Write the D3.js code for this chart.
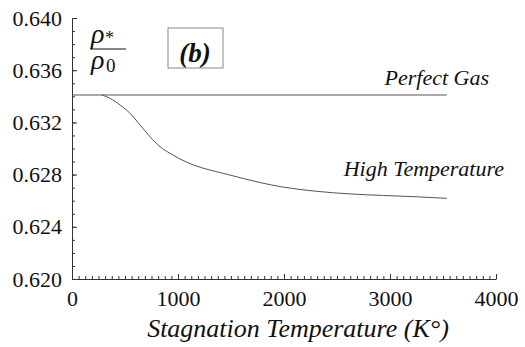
<!DOCTYPE html>
<html><head><meta charset="utf-8"><script src="https://cdn.jsdelivr.net/npm/d3@7"></script></head>
<body style="margin:0">
<svg id="chart" width="525" height="347"></svg>
<script>
// Data
const perfectT = [0, 3535];
const perfectV = [0.6341, 0.6341];
const highT = [280, 358, 453, 547, 642, 736, 830, 925, 1019, 1144, 1302, 1459, 1616, 1774, 1994, 2308, 2623, 2937, 3252, 3535];
const highV = [0.63410, 0.63385, 0.63333, 0.63270, 0.63180, 0.63090, 0.63014, 0.62963, 0.62920, 0.62874,
               0.62835, 0.62803, 0.62770, 0.62739, 0.62704, 0.62672, 0.62652, 0.62640, 0.62630, 0.62618];
const xTicks = [0, 1000, 2000, 3000, 4000];
const yTicks = [0.620, 0.624, 0.628, 0.632, 0.636, 0.640];

const serif = "'Liberation Serif', 'Times New Roman', serif";

const margin = {top: 18, right: 29, bottom: 68, left: 72},
    width = 525 - margin.left - margin.right,
    height = 347 - margin.top - margin.bottom;

const svg = d3.select("#chart")
  .append("g")
  .attr("transform", `translate(${margin.left},${margin.top})`);

const x = d3.scaleLinear().domain([0, 4000]).range([0, width]);
const y = d3.scaleLinear().domain([0.620, 0.640]).range([height, 0]);

// minor ticks
const xMinor = d3.range(0, 4000.1, 62.5);
const yMinor = d3.range(0, 21).map(i => 0.620 + i * 0.001);

svg.append("g")
  .attr("transform", `translate(0,${height})`)
  .call(d3.axisBottom(x).tickValues(xMinor).tickSize(-3).tickFormat(""))
  .call(g => g.select(".domain").remove());
svg.append("g")
  .call(d3.axisLeft(y).tickValues(yMinor).tickSize(-3).tickFormat(""))
  .call(g => g.select(".domain").remove());

// X axis
svg.append("g")
  .attr("transform", `translate(0,${height})`)
  .call(d3.axisBottom(x).tickValues(xTicks).tickSize(-5).tickSizeOuter(0).tickPadding(11).tickFormat(d3.format("d")))
  .call(g => g.selectAll("text")
    .style("font-family", serif, "important")
    .style("font-size", "22px", "important")
    .attr("fill", "#111"));

// Y axis
svg.append("g")
  .call(d3.axisLeft(y).tickValues(yTicks).tickSize(-5).tickSizeOuter(0).tickPadding(10).tickFormat(d3.format(".3f")))
  .call(g => g.selectAll("text")
    .style("font-family", serif, "important")
    .style("font-size", "22px", "important")
    .attr("fill", "#111"));

svg.selectAll(".domain, .tick line").attr("stroke", "#333");

// Lines
const line = d3.line().x(d => x(d[0])).y(d => y(d[1])).curve(d3.curveMonotoneX);
svg.append("path")
  .datum(perfectT.map((t, i) => [t, perfectV[i]]))
  .attr("d", line)
  .attr("fill", "none")
  .attr("stroke", "#555")
  .attr("stroke-width", 1);
svg.append("path")
  .datum(highT.map((t, i) => [t, highV[i]]))
  .attr("d", line)
  .attr("fill", "none")
  .attr("stroke", "#555")
  .attr("stroke-width", 1);

// Text helper
function label(px, py, str, size, opts = {}) {
  return svg.append("text")
    .attr("x", px - margin.left)
    .attr("y", py - margin.top)
    .attr("text-anchor", opts.anchor || "start")
    .style("font-family", serif, "important")
    .style("font-size", size + "px", "important")
    .style("font-style", opts.style || "italic")
    .style("font-weight", opts.weight || "normal")
    .attr("fill", "#111")
    .text(str);
}

// Curve labels
label(489, 85, "Perfect Gas", 22, {anchor: "end"});
label(504, 176, "High Temperature", 22, {anchor: "end"});

// rho*/rho0 fraction
label(91, 43, "ρ", 28);
label(105, 44, "*", 18, {style: "normal"});
svg.append("line")
  .attr("x1", 90 - margin.left).attr("x2", 126 - margin.left)
  .attr("y1", 49 - margin.top).attr("y2", 49 - margin.top)
  .attr("stroke", "#111").attr("stroke-width", 1.2);
label(91, 69, "ρ", 28);
label(106, 72, "0", 19, {style: "normal"});

// (b) box
svg.append("rect")
  .attr("x", 168 - margin.left).attr("y", 28 - margin.top)
  .attr("width", 55).attr("height", 40)
  .attr("fill", "none").attr("stroke", "#888").attr("stroke-width", 1);
label(195, 62, "(b)", 27, {anchor: "middle", weight: "bold"});

// X axis label
label(298, 337, "Stagnation Temperature (K°)", 26, {anchor: "middle"});
</script>
</body>
</html>
